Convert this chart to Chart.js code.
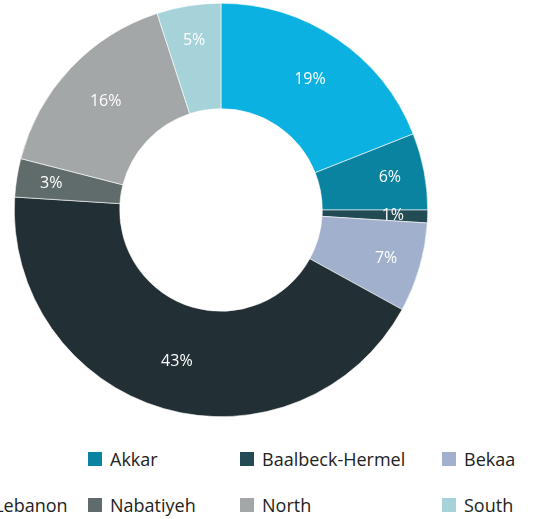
<!DOCTYPE html>
<html>
<head>
<meta charset="utf-8">
<script src="https://cdn.jsdelivr.net/npm/chart.js@4.4.0/dist/chart.umd.min.js"></script>
<style>
    body { margin: 0; background: #ffffff; width: 533px; height: 519px; overflow: hidden; position: relative; font-family: 'Open Sans', sans-serif; }
    #wrap { position: absolute; left: 0; top: 0; width: 442px; height: 420px; }
    #legend { position: absolute; left: -88px; top: 448px; display: grid; grid-template-columns: 176px 152px 202px 160px; row-gap: 24px; }
    .item { display: flex; align-items: center; height: 22px; font-size: 18px; color: #222; white-space: nowrap; }
    .box { width: 14px; height: 14px; margin-right: 8px; }
</style>
</head>
<body>
<div id="wrap"><canvas id="regionChart"></canvas></div>
<div id="legend"></div>
<script>
// Share by governorate (%)
var regions = ['Beirut', 'Akkar', 'Baalbeck-Hermel', 'Bekaa', 'Mount Lebanon', 'Nabatiyeh', 'North', 'South'];
var shares = [19, 6, 1, 7, 43, 3, 16, 5];
var colors = ['#0bb1e1', '#0a83a1', '#234b53', '#a1b0cd', '#223035', '#606c6b', '#a4a7a8', '#a6d2d9'];

// Draw the percentage inside each slice (small slices pushed a bit outward)
var sliceLabels = {
    id: 'sliceLabels',
    afterDatasetsDraw: function(chart) {
        var ctx = chart.ctx;
        var meta = chart.getDatasetMeta(0);
        ctx.save();
        ctx.fillStyle = '#ffffff';
        ctx.font = '16px "Open Sans"';
        ctx.textAlign = 'center';
        ctx.textBaseline = 'middle';
        meta.data.forEach(function(arc, i) {
            var p = arc.getProps(['x', 'y', 'startAngle', 'endAngle', 'innerRadius', 'outerRadius'], true);
            var mid = (p.startAngle + p.endAngle) / 2;
            var f = shares[i] < 10 ? 0.67 : 0.54;
            var r = p.innerRadius + (p.outerRadius - p.innerRadius) * f;
            ctx.fillText(shares[i] + '%', p.x + Math.cos(mid) * r, p.y + Math.sin(mid) * r);
        });
        ctx.restore();
    }
};

var ctx = document.getElementById('regionChart').getContext('2d');
var regionChart = new Chart(ctx, {
    type: 'doughnut',
    data: {
        labels: regions,
        datasets: [{
            data: shares,
            backgroundColor: colors,
            borderColor: '#ffffff',
            borderWidth: 0.6
        }]
    },
    options: {
        responsive: true,
        maintainAspectRatio: false,
        animation: false,
        cutout: '49%',
        layout: {
            padding: { top: 3, bottom: 3 }
        },
        plugins: {
            legend: { display: false },
            tooltip: { enabled: false }
        }
    },
    plugins: [sliceLabels]
});

// Legend in a 4-column grid, first column runs off the left edge
var legend = document.getElementById('legend');
regions.forEach(function(name, i) {
    var item = document.createElement('div');
    item.className = 'item';
    item.innerHTML = '<span class="box" style="background:' + colors[i] + '"></span>' + name;
    legend.appendChild(item);
});
</script>
</body>
</html>
